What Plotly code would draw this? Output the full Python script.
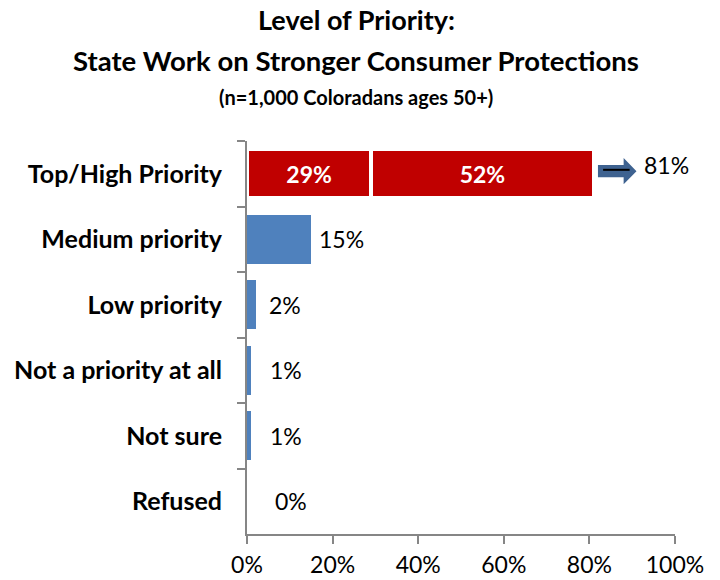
import plotly.graph_objects as go

# Survey categories (top to bottom) and shares in percent
categories = ["Top/High Priority", "Medium priority", "Low priority",
              "Not a priority at all", "Not sure", "Refused"]
top_priority = [29]          # "Top priority" share of the first row
high_priority = [52]         # "High priority" share of the first row
other_values = [15, 2, 1, 1, 0]   # remaining rows
x_ticks = [0, 20, 40, 60, 80, 100]

title_lines = ["Level of Priority:",
               "State Work on Stronger Consumer Protections",
               "(n=1,000 Coloradans ages 50+)"]

RED = "#C00000"
BLUE = "#4F81BD"
ARROW = "#3E6290"
AXIS = "#868686"
FONT = "Lato"
VAL_SIZE = 23

fig = go.Figure()

# stacked red bar: two segments separated by a white outline
for seg in (top_priority, high_priority):
    fig.add_trace(go.Bar(
        y=categories[:1], x=seg, orientation="h",
        marker=dict(color=RED, line=dict(color="white", width=4)),
        width=0.75,
        text=[f"{v}%" for v in seg], textposition="inside",
        insidetextanchor="middle", textangle=0,
        textfont=dict(family=FONT, size=VAL_SIZE, color="white", weight="bold"),
    ))

# blue bars for the other answers
fig.add_trace(go.Bar(
    y=categories[1:], x=other_values, orientation="h",
    marker=dict(color=BLUE, line=dict(width=0)),
    width=0.75,
))

# value labels to the right of the blue bars
label_shift = [6, 11, 17, 17, 26]
for cat, v, dx in zip(categories[1:], other_values, label_shift):
    fig.add_annotation(x=v, y=cat, text=f"{v}%", showarrow=False,
                       xanchor="left", xshift=dx,
                       font=dict(family=FONT, size=VAL_SIZE, color="black"))

# block arrow pointing to the combined top/high share
total = top_priority[0] + high_priority[0]
x0, xh, x1 = total + 1.0, total + 7.0, total + 10.0
yc, bh, hh = -0.04, 0.095, 0.2
fig.add_shape(type="path", xref="x", yref="y",
              path=(f"M {x0},{yc - bh} L {xh},{yc - bh} L {xh},{yc - hh} "
                    f"L {x1},{yc} L {xh},{yc + hh} L {xh},{yc + bh} "
                    f"L {x0},{yc + bh} Z"),
              fillcolor=ARROW, line=dict(width=0))
fig.add_shape(type="line", xref="x", yref="y",
              x0=total + 2.2, x1=total + 8.4, y0=yc - 0.02, y1=yc - 0.02,
              line=dict(color="black", width=2))
fig.add_annotation(x=total + 11.4, y=categories[0], text=f"{total}%",
                   showarrow=False, xanchor="left", yshift=9,
                   font=dict(family=FONT, size=VAL_SIZE, color="black"))

# three-line bold heading above the plot area, centred on the page
for text, yp, size in zip(title_lines, (1.31, 1.205, 1.112), (27, 27.5, 20)):
    fig.add_annotation(x=0.255, xref="paper", y=yp, yref="paper",
                       text=f"<b>{text}</b>", showarrow=False,
                       xanchor="center", yanchor="middle",
                       font=dict(family=FONT, size=size, color="black"))

fig.update_layout(
    barmode="stack",
    showlegend=False,
    width=720, height=580,
    margin=dict(l=247, r=45, t=141, b=46),
    plot_bgcolor="white", paper_bgcolor="white",
    xaxis=dict(
        range=[0, 100], tickvals=x_ticks, ticktext=[f"{t}%" for t in x_ticks],
        showgrid=False, zeroline=False, automargin=False,
        showline=True, linecolor=AXIS, linewidth=2,
        ticks="outside", ticklen=8, tickwidth=2, tickcolor=AXIS,
        ticklabelstandoff=1,
        tickfont=dict(family=FONT, size=VAL_SIZE, color="black"),
    ),
    yaxis=dict(
        categoryorder="array", categoryarray=categories,
        autorange="reversed",
        tickson="boundaries", automargin=False,
        showgrid=False, zeroline=False,
        showline=True, linecolor=AXIS, linewidth=2,
        ticks="outside", ticklen=8, tickwidth=2, tickcolor=AXIS,
        ticklabelstandoff=18,
        tickfont=dict(family=FONT, size=25, color="black", weight="bold"),
    ),
)

fig.write_html("out.html")
